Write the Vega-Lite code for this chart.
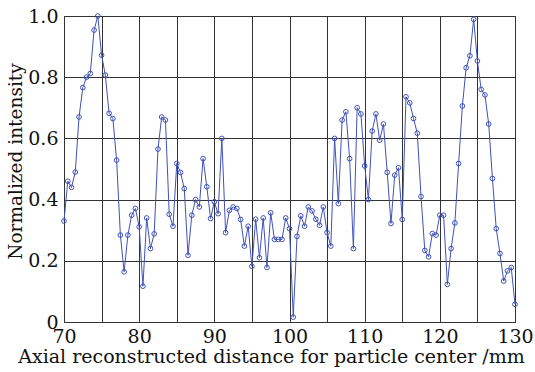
{
  "$schema": "https://vega.github.io/schema/vega-lite/v6.json",
  "width": 451,
  "height": 306,
  "autosize": "none",
  "padding": {"left": 64, "top": 16, "right": 20, "bottom": 50},
  "background": "white",
  "config": {
    "view": {"stroke": "#222", "strokeWidth": 1},
    "font": "DejaVu Serif"
  },
  "data": {
    "values": [
      {"x": 70, "y": 0.33}, {"x": 70.5, "y": 0.46}, {"x": 71, "y": 0.44}, {"x": 71.5, "y": 0.49},
      {"x": 72, "y": 0.67}, {"x": 72.5, "y": 0.766}, {"x": 73, "y": 0.80}, {"x": 73.5, "y": 0.812},
      {"x": 74, "y": 0.954}, {"x": 74.5, "y": 1.0}, {"x": 75, "y": 0.872}, {"x": 75.5, "y": 0.807},
      {"x": 76, "y": 0.682}, {"x": 76.5, "y": 0.665}, {"x": 77, "y": 0.529}, {"x": 77.5, "y": 0.284},
      {"x": 78, "y": 0.164}, {"x": 78.5, "y": 0.284}, {"x": 79, "y": 0.349}, {"x": 79.5, "y": 0.371},
      {"x": 80, "y": 0.311}, {"x": 80.5, "y": 0.117}, {"x": 81, "y": 0.34}, {"x": 81.5, "y": 0.24},
      {"x": 82, "y": 0.288}, {"x": 82.5, "y": 0.565}, {"x": 83, "y": 0.67}, {"x": 83.5, "y": 0.66},
      {"x": 84, "y": 0.352}, {"x": 84.5, "y": 0.313}, {"x": 85, "y": 0.518}, {"x": 85.5, "y": 0.489},
      {"x": 86, "y": 0.436}, {"x": 86.5, "y": 0.218}, {"x": 87, "y": 0.349}, {"x": 87.5, "y": 0.40},
      {"x": 88, "y": 0.376}, {"x": 88.5, "y": 0.534}, {"x": 89, "y": 0.442}, {"x": 89.5, "y": 0.338},
      {"x": 90, "y": 0.393}, {"x": 90.5, "y": 0.354}, {"x": 91, "y": 0.60}, {"x": 91.5, "y": 0.292},
      {"x": 92, "y": 0.365}, {"x": 92.5, "y": 0.376}, {"x": 93, "y": 0.371}, {"x": 93.5, "y": 0.335},
      {"x": 94, "y": 0.248}, {"x": 94.5, "y": 0.313}, {"x": 95, "y": 0.182}, {"x": 95.5, "y": 0.336},
      {"x": 96, "y": 0.21}, {"x": 96.5, "y": 0.34}, {"x": 97, "y": 0.178}, {"x": 97.5, "y": 0.357},
      {"x": 98, "y": 0.27}, {"x": 98.5, "y": 0.27}, {"x": 99, "y": 0.27}, {"x": 99.5, "y": 0.34},
      {"x": 100, "y": 0.305}, {"x": 100.5, "y": 0.016}, {"x": 101, "y": 0.28}, {"x": 101.5, "y": 0.347},
      {"x": 102, "y": 0.313}, {"x": 102.5, "y": 0.376}, {"x": 103, "y": 0.363}, {"x": 103.5, "y": 0.336},
      {"x": 104, "y": 0.316}, {"x": 104.5, "y": 0.376}, {"x": 105, "y": 0.292}, {"x": 105.5, "y": 0.248},
      {"x": 106, "y": 0.60}, {"x": 106.5, "y": 0.387}, {"x": 107, "y": 0.66}, {"x": 107.5, "y": 0.687},
      {"x": 108, "y": 0.534}, {"x": 108.5, "y": 0.24}, {"x": 109, "y": 0.70}, {"x": 109.5, "y": 0.68},
      {"x": 110, "y": 0.51}, {"x": 110.5, "y": 0.40}, {"x": 111, "y": 0.624}, {"x": 111.5, "y": 0.68},
      {"x": 112, "y": 0.594}, {"x": 112.5, "y": 0.647}, {"x": 113, "y": 0.489}, {"x": 113.5, "y": 0.322},
      {"x": 114, "y": 0.48}, {"x": 114.5, "y": 0.504}, {"x": 115, "y": 0.335}, {"x": 115.5, "y": 0.736},
      {"x": 116, "y": 0.716}, {"x": 116.5, "y": 0.665}, {"x": 117, "y": 0.617}, {"x": 117.5, "y": 0.41},
      {"x": 118, "y": 0.234}, {"x": 118.5, "y": 0.213}, {"x": 119, "y": 0.289}, {"x": 119.5, "y": 0.284},
      {"x": 120, "y": 0.349}, {"x": 120.5, "y": 0.349}, {"x": 121, "y": 0.123}, {"x": 121.5, "y": 0.24},
      {"x": 122, "y": 0.324}, {"x": 122.5, "y": 0.518}, {"x": 123, "y": 0.706}, {"x": 123.5, "y": 0.831},
      {"x": 124, "y": 0.87}, {"x": 124.5, "y": 0.989}, {"x": 125, "y": 0.853}, {"x": 125.5, "y": 0.76},
      {"x": 126, "y": 0.742}, {"x": 126.5, "y": 0.647}, {"x": 127, "y": 0.469}, {"x": 127.5, "y": 0.305},
      {"x": 128, "y": 0.224}, {"x": 128.5, "y": 0.134}, {"x": 129, "y": 0.167}, {"x": 129.5, "y": 0.178},
      {"x": 130, "y": 0.058}
    ]
  },
  "mark": {
    "type": "line",
    "color": "#3f52b8",
    "strokeWidth": 1,
    "clip": false,
    "point": {"filled": false, "size": 22, "strokeWidth": 1, "color": "#3f52b8"}
  },
  "encoding": {
    "x": {
      "field": "x",
      "type": "quantitative",
      "scale": {"domain": [70, 130], "nice": false, "zero": false},
      "axis": {
        "title": "Axial reconstructed distance for particle center /mm",
        "values": [70, 75, 80, 85, 90, 95, 100, 105, 110, 115, 120, 125, 130],
        "labelExpr": "datum.value % 10 == 0 ? datum.label : ''",
        "grid": true,
        "gridColor": "#333",
        "gridOpacity": 1,
        "gridWidth": 1,
        "domain": false,
        "ticks": false,
        "labelFont": "DejaVu Serif",
        "labelFontSize": 19,
        "labelColor": "#111",
        "labelPadding": 5,
        "labelFlush": false,
        "labelOverlap": false,
        "titleFont": "DejaVu Serif",
        "titleFontSize": 19,
        "titleFontWeight": "normal",
        "titleColor": "#111",
        "titlePadding": 1,
        "titleX": 207
      }
    },
    "y": {
      "field": "y",
      "type": "quantitative",
      "scale": {"domain": [0, 1], "nice": false},
      "axis": {
        "title": "Normalized intensity",
        "values": [0, 0.2, 0.4, 0.6, 0.8, 1.0],
        "labelExpr": "datum.value == 0 ? '0' : format(datum.value, '.1f')",
        "grid": true,
        "gridColor": "#333",
        "gridOpacity": 1,
        "gridWidth": 1,
        "domain": false,
        "ticks": false,
        "labelFont": "DejaVu Serif",
        "labelFontSize": 19,
        "labelColor": "#111",
        "labelPadding": 6,
        "labelFlush": false,
        "titleFont": "DejaVu Serif",
        "titleFontSize": 18.5,
        "titleFontWeight": "normal",
        "titleColor": "#111",
        "titlePadding": 2,
        "titleY": 145
      }
    }
  }
}
